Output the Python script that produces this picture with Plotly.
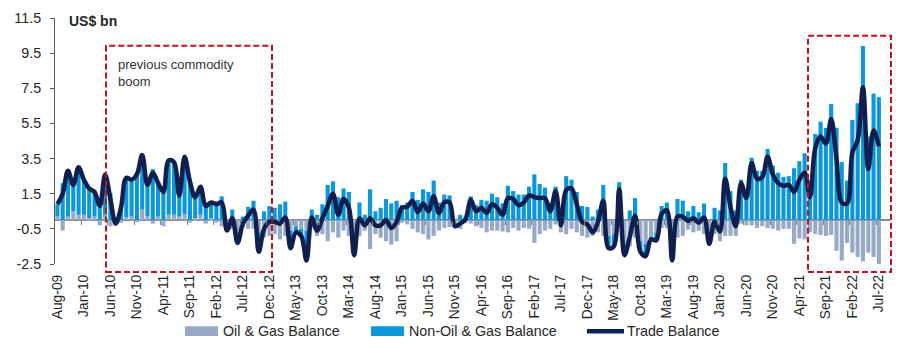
import pandas as pd
import plotly.graph_objects as go

# ---------------- data (US$ bn, monthly Aug-09 .. Jul-22) ----------------
months = [d.strftime("%b-%y") for d in pd.date_range("2009-08-01", periods=156, freq="MS")]

trade_balance = [
    0.9, 1.5, 2.8, 2.0, 3.0, 2.3, 1.8, 1.6, 0.8, 2.6,
    1.2, -0.2, 0.7, 2.4, 2.3, 2.6, 3.7, 2.0, 2.7, 2.1,
    1.6, 3.4, 3.3, 1.4, 3.6, 2.2, 1.3, 1.9, 0.8, 1.0,
    0.9, 1.0, -0.6, 0.1, -1.3, -0.2, 0.25, 0.6, -1.8, -0.5,
    -0.1, -0.1, -0.2, 0.15, -1.6, -0.7, -0.9, -2.3, 0.15, -0.6,
    0.1, 0.8, 1.5, 0.3, 1.2, 0.7, -2.0, 0.1, -0.3, 0.1,
    -0.3, -0.3, 0.0, -0.45, -0.1, 0.7, 0.75, 1.1, 0.45, 0.95,
    0.5, 1.35, 0.4, 1.0, 1.0, -0.35, -0.2, 0.05, 1.15, 0.5,
    0.7, 0.4, 0.9, 0.7, 0.3, 1.25, 1.2, 0.85, 1.0, 1.4,
    1.3, 1.25, 1.25, 0.5, 1.65, -0.3, 1.7, 1.8, 0.9, -0.1,
    -0.25, -0.7, -0.1, 1.1, -1.6, -1.5, 1.75, -2.0, -0.95, 0.25,
    -1.8, -2.05, -1.1, -1.15, 0.35, 0.55, -2.3, 0.2, 0.2, -0.05,
    0.1, -0.15, 0.15, -1.35, -0.1, -0.65, 2.35, 0.75, -0.35, 2.1,
    1.25, 3.25, 2.35, 2.45, 3.6, 2.6, 2.1, 1.95, 2.0, 1.6,
    2.3, 2.7, 1.3, 4.1, 4.75, 4.35, 5.75, 3.5, 1.0, 0.95,
    3.85, 4.55, 7.55, 2.9, 5.1, 4.2,
]

oil_gas_balance = [
    0.2, -0.6, 0.2, 0.5, 0.3, 0.3, 0.1, 0.2, -0.3, 0.3,
    -0.35, -0.3, -0.15, 0.15, 0.2, -0.1, 0.6, 0.2, -0.2, 0.2,
    -0.35, 0.3, 0.3, 0.2, 0.35, -0.15, 0.1, 0.3, -0.2, 0.1,
    -0.15, -0.35, -0.4, -0.5, -0.9, -0.4, -0.5, -0.5, -0.7, -1.0,
    -0.9, -0.8, -1.1, -0.9, -0.6, -0.35, -0.5, -0.6, -0.45, -0.9,
    -0.8, -1.2, -0.7, -1.0, -0.6, -0.9, -0.9, -0.9, -0.6, -1.65,
    -0.8, -1.0, -1.2, -1.4, -1.2, -0.15, -0.25, -0.5, -0.7, -0.8,
    -1.1, -0.9, -0.6, -0.45, -0.4, -0.2, -0.5, -0.15, -0.2, -0.35,
    -0.45, -0.7, -0.6, -0.6, -0.65, -0.7, -0.45, -0.6, -0.45, -0.5,
    -1.3, -0.8, -0.6, -0.5, -0.25, -0.7, -0.8, -0.5, -0.7, -0.9,
    -1.0, -0.9, -0.7, -0.9, -0.9, -0.8, -0.4, -1.75, -1.5, -1.0,
    -1.2, -1.35, -1.0, -0.7, -0.45, -0.45, -0.6, -1.0, -0.9, -0.55,
    -0.7, -0.6, -0.8, -1.1, -0.8, -1.2, -0.9, -0.9, -0.9, -0.2,
    -0.3, -0.3, -0.45, -0.35, -0.45, -0.5, -0.6, -0.5, -0.5, -1.35,
    -1.05, -1.1, -0.7, -0.8, -0.85, -0.9, -0.85, -1.75, -2.3, -1.3,
    -1.85, -2.1, -2.35, -1.85, -2.1, -2.8,
]

non_oil_gas_balance = [
    0.7, 2.1, 2.6, 1.5, 2.7, 2.0, 1.7, 1.4, 1.1, 2.3,
    1.55, 0.1, 0.85, 2.25, 2.1, 2.7, 3.1, 1.8, 2.9, 1.9,
    1.95, 3.1, 3.0, 1.2, 3.25, 2.35, 1.2, 1.6, 1.0, 0.9,
    1.05, 1.35, -0.2, 0.6, -0.4, 0.2, 0.75, 1.1, -1.1, 0.5,
    0.8, 0.7, 0.9, 1.05, -1.0, -0.35, -0.4, -1.7, 0.6, 0.3,
    0.9, 2.0, 2.2, 1.3, 1.8, 1.6, -1.1, 1.0, 0.3, 1.75,
    0.5, 0.7, 1.2, 0.95, 1.1, 0.85, 1.0, 1.6, 1.15, 1.75,
    1.6, 2.25, 1.0, 1.45, 1.4, -0.15, 0.3, 0.2, 1.35, 0.85,
    1.15, 1.1, 1.5, 1.3, 0.95, 1.95, 1.65, 1.45, 1.45, 1.9,
    2.6, 2.05, 1.85, 1.0, 1.9, 0.4, 2.5, 2.3, 1.6, 0.8,
    0.75, 0.2, 0.6, 2.0, -0.7, -0.7, 2.15, -0.25, 0.55, 1.25,
    -0.6, -0.7, -0.1, -0.45, 0.8, 1.0, -1.7, 1.2, 1.1, 0.5,
    0.8, 0.45, 0.95, -0.25, 0.7, 0.55, 3.25, 1.65, 0.55, 2.3,
    1.55, 3.55, 2.8, 2.8, 4.05, 3.1, 2.7, 2.45, 2.5, 2.95,
    3.35, 3.8, 2.0, 4.9, 5.6, 5.25, 6.6, 5.25, 3.3, 2.25,
    5.7, 6.65, 9.9, 4.75, 7.2, 7.0,
]

tick_labels = [
    "Aug-09", "Jan-10", "Jun-10", "Nov-10", "Apr-11", "Sep-11", "Feb-12", "Jul-12",
    "Dec-12", "May-13", "Oct-13", "Mar-14", "Aug-14", "Jan-15", "Jun-15", "Nov-15",
    "Apr-16", "Sep-16", "Feb-17", "Jul-17", "Dec-17", "May-18", "Oct-18", "Mar-19",
    "Aug-19", "Jan-20", "Jun-20", "Nov-20", "Apr-21", "Sep-21", "Feb-22", "Jul-22",
]
y_ticks = [-2.5, -0.5, 1.5, 3.5, 5.5, 7.5, 9.5, 11.5]

# ---------------- styling ----------------
C_OIL = "#98a9c7"
C_NONOIL = "#0b97da"
C_LINE = "#101f4e"
C_BOX = "#c0121c"
C_TEXT = "#262626"
FONT = "Liberation Sans, Arial, sans-serif"

# the page body has an 8px margin; lay the figure out in page pixels minus that offset
OFF = 8
W, H = 900 - 2 * OFF, 359 - 2 * OFF
PLOT_L, PLOT_R, PLOT_T, PLOT_B = 55, 890, 15, 264          # page pixels
ML, MR = PLOT_L - OFF, (W + OFF) - PLOT_R
MT, MB = PLOT_T - OFF, (H + OFF) - PLOT_B
PW, PH = W - ML - MR, H - MT - MB
X_RANGE = [-0.45, 157.1]
Y_RANGE = [-2.5, 11.5]


def px(xp):
    return (xp - PLOT_L) / PW


def py(yp):
    return (PLOT_B - yp) / PH


fig = go.Figure()
fig.add_trace(go.Bar(x=months, y=oil_gas_balance, name="Oil & Gas Balance",
                     marker=dict(color=C_OIL, line=dict(width=0))))
fig.add_trace(go.Bar(x=months, y=non_oil_gas_balance, name="Non-Oil & Gas Balance",
                     marker=dict(color=C_NONOIL, line=dict(width=0))))
fig.add_trace(go.Scatter(x=months, y=trade_balance, name="Trade Balance", mode="lines",
                         line=dict(color=C_LINE, width=4.5, shape="spline", smoothing=1.0)))

# helper axis carrying the small category-boundary tick marks on the zero line
tick_pos = [months.index(t) - 0.5 for t in tick_labels]
fig.add_trace(go.Scatter(x=[0], y=[0], xaxis="x2", mode="markers", opacity=0,
                         hoverinfo="skip", showlegend=False))

fig.update_layout(
    width=W, height=H,
    margin=dict(l=ML, r=MR, t=MT, b=MB, pad=0),
    paper_bgcolor="white", plot_bgcolor="white",
    barmode="relative", bargap=0.22,
    showlegend=False,
    font=dict(family=FONT, size=14, color=C_TEXT),
    xaxis=dict(type="category", range=X_RANGE, tickmode="array",
               tickvals=tick_labels, ticktext=tick_labels, tickangle=-90,
               showgrid=False, showline=False, zeroline=False, ticks="",
               ticklabelstandoff=7, ticklabeloverflow="allow",
               tickfont=dict(size=13.8, color=C_TEXT)),
    xaxis2=dict(overlaying="x", anchor="free", position=(0 - Y_RANGE[0]) / (Y_RANGE[1] - Y_RANGE[0]),
                range=X_RANGE, tickmode="array", tickvals=tick_pos, showticklabels=False,
                ticks="outside", ticklen=4, tickcolor="#808080", tickwidth=1,
                showgrid=False, showline=False, zeroline=False),
    yaxis=dict(range=Y_RANGE, tickmode="array", tickvals=y_ticks,
               ticktext=[f"{v:.1f}" for v in y_ticks],
               showgrid=False, showline=True, linecolor="#595959", linewidth=1,
               ticks="outside", ticklen=4, tickcolor="#595959",
               zeroline=True, zerolinecolor="#8c8c8c", zerolinewidth=2,
               ticklabelstandoff=6, ticklabeloverflow="allow",
               tickfont=dict(size=14.3, color=C_TEXT)),
)

shapes = []
# dashed highlight boxes (page pixel extents)
for x0, x1, y0, y1 in [(106, 272, 43, 272), (808, 891, 33, 272)]:
    shapes.append(dict(type="rect", xref="paper", yref="paper",
                       x0=px(x0), x1=px(x1), y0=py(y1), y1=py(y0),
                       line=dict(color=C_BOX, width=2, dash="6px,3px"),
                       fillcolor="rgba(0,0,0,0)", layer="above"))
# custom legend symbols
LEG_Y = 332
shapes.append(dict(type="rect", xref="paper", yref="paper", x0=px(185), x1=px(218),
                   y0=py(LEG_Y + 5), y1=py(LEG_Y - 5), fillcolor=C_OIL, line=dict(width=0)))
shapes.append(dict(type="rect", xref="paper", yref="paper", x0=px(371), x1=px(404),
                   y0=py(LEG_Y + 5), y1=py(LEG_Y - 5), fillcolor=C_NONOIL, line=dict(width=0)))
shapes.append(dict(type="line", xref="paper", yref="paper", x0=px(587), x1=px(624),
                   y0=py(LEG_Y), y1=py(LEG_Y), line=dict(color=C_LINE, width=4.5)))
fig.update_layout(shapes=shapes)

annos = [
    dict(text="<b>US$ bn</b>", x=px(67), y=py(18), font=dict(size=14, color=C_TEXT)),
    dict(text="previous commodity<br>boom", x=px(116), y=py(71), font=dict(size=13, color="#333333"),
         align="left"),
    dict(text="Oil & Gas Balance", x=px(221), y=py(LEG_Y), font=dict(size=14.3, color=C_TEXT)),
    dict(text="Non-Oil & Gas Balance", x=px(407), y=py(LEG_Y), font=dict(size=14.3, color=C_TEXT)),
    dict(text="Trade Balance", x=px(625), y=py(LEG_Y), font=dict(size=14.3, color=C_TEXT)),
]
for a in annos:
    fig.add_annotation(xref="paper", yref="paper", xanchor="left", yanchor="middle",
                       showarrow=False, **a)

fig.write_html("out.html")
